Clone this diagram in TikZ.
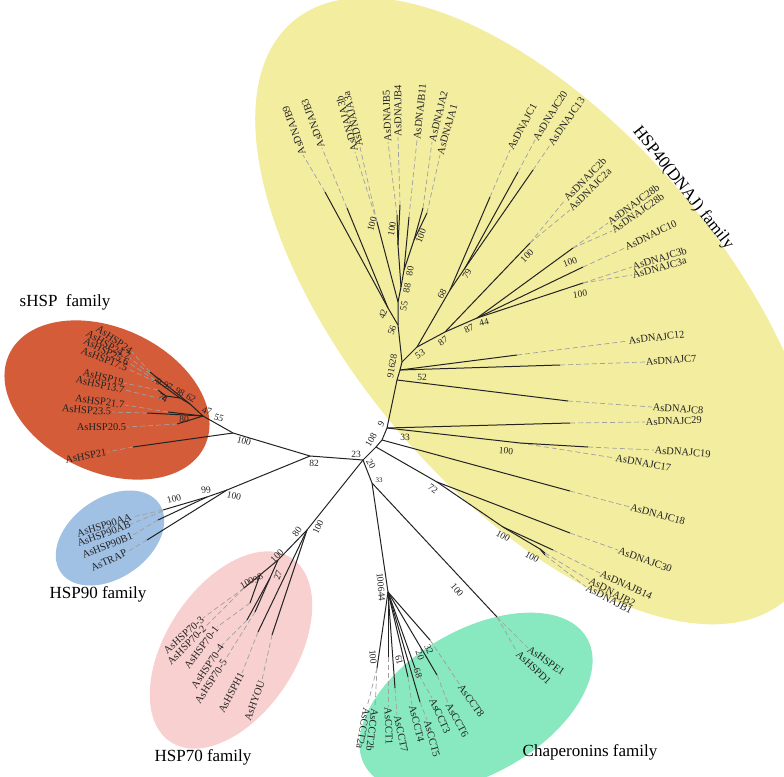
\documentclass[tikz,border=0pt]{standalone}
\usepackage{fontspec}
\setmainfont{Liberation Serif}
\definecolor{yel}{RGB}{243,237,160}
\definecolor{org}{RGB}{212,92,57}
\definecolor{blu}{RGB}{160,192,228}
\definecolor{pnk}{RGB}{249,208,208}
\definecolor{grn}{RGB}{136,232,192}
\definecolor{ink}{RGB}{35,35,35}
\definecolor{dsh}{RGB}{160,160,160}
\newcommand\lfR[5]{\coordinate (e#1) at (#2); \node[lf,anchor=west,rotate=#4] (l#1) at (#3) {#5}; \draw[dl] (e#1) -- (l#1.west);}
\newcommand\lfL[5]{\coordinate (e#1) at (#2); \node[lf,anchor=east,rotate=#4] (l#1) at (#3) {#5}; \draw[dl] (e#1) -- (l#1.east);}
\newcommand\bsl[4]{\node[bs,rotate=#3] (#1) at (#2) {#4};}
\begin{document}
\begin{tikzpicture}[x=1pt,y=-1pt,
  br/.style={draw=ink, line width=1pt},
  dl/.style={draw=dsh, line width=0.7pt, dash pattern=on 5pt off 3pt},
  lf/.style={font=\fontsize{10.5}{12}\selectfont, inner sep=0.6pt, text=ink},
  bs/.style={font=\fontsize{9.5}{11}\selectfont, inner sep=0pt, text=ink},
  fam/.style={font=\fontsize{17}{20}\selectfont, inner sep=0pt, text=black}]
\useasboundingbox (0,0) rectangle (784,776);
\clip (0,0) rectangle (784,776);
\fill[white] (0,0) rectangle (784,776);
% family backgrounds
\fill[yel, rotate around={-49.6:(539,311)}] (539,311) ellipse [x radius=380, y radius=185];
\fill[org, rotate around={-25:(107,400)}] (107,400) ellipse [x radius=108, y radius=72];
\fill[blu, rotate around={35:(110,538)}] (110,538) ellipse [x radius=60, y radius=40];
\fill[pnk, rotate around={56.7:(231,650)}] (231,650) ellipse [x radius=110, y radius=65];
\fill[grn, rotate around={30:(476,702)}] (476,702) ellipse [x radius=128, y radius=72];
% family titles
\node[fam, rotate=-51.6] (fHSP40) at (683,188) {HSP40(DNAJ) family};
\node[fam] (fsHSP) at (65,302) {sHSP\ \ family};
\node[fam] (fHSP90) at (98,594) {HSP90 family};
\node[fam] (fHSP70) at (203,757) {HSP70 family};
\node[fam] (fCha) at (590,752) {Chaperonins family};
% ---- leaves: HSP40 ----
\lfR{B9}{325,192}{303,155}{110}{AsDNAJB9}
\lfR{B3}{347,208}{322,148}{110}{AsDNAJB3}
\lfR{A3b}{377,222}{355,152}{106}{AsDNAJA3b}
\lfR{A3a}{377,222}{360,147}{104}{AsDNAJA3a}
\lfR{B5}{397,215}{388,142}{92}{AsDNAJB5}
\lfR{B4}{400,205}{398,137}{90}{AsDNAJB4}
\lfR{B11}{409,217}{417,140}{84}{AsDNAJB11}
\lfR{A2}{423,208}{432,142}{76}{AsDNAJA2}
\lfR{A1}{427,213}{440,155}{74}{AsDNAJA1}
\lfR{C1}{490,197}{510,150}{62}{AsDNAJC1}
\lfR{C20}{518,172}{535,140}{58}{AsDNAJC20}
\lfR{C13}{533,170}{550,145}{55}{AsDNAJC13}
\lfR{C2b}{530,243}{565,200}{46}{AsDNAJC2b}
\lfR{C2a}{530,243}{570,210}{45}{AsDNAJC2a}
\lfR{C28b}{573,248}{608,223}{36}{AsDNAJC28b}
\lfR{C28c}{573,248}{612,231}{35}{AsDNAJC28b}
\lfR{C10}{583,267}{625,248}{26}{AsDNAJC10}
\lfR{C3b}{583,283}{632,267}{17}{AsDNAJC3b}
\lfR{C3a}{583,283}{632,275}{15}{AsDNAJC3a}
\lfR{C12}{517,355}{628,341}{7}{AsDNAJC12}
\lfR{C7}{560,365}{645,362}{4}{AsDNAJC7}
\lfR{C8}{568,401}{652,407}{-4}{AsDNAJC8}
\lfR{C29}{570,423}{645,422}{2}{AsDNAJC29}
\lfR{C19}{588,447}{654,450}{-4}{AsDNAJC19}
\lfR{C17}{520,443}{615,458}{-10}{AsDNAJC17}
\lfR{C18}{570,491}{630,507}{-15}{AsDNAJC18}
\lfR{C30}{570,533}{618,550}{-20}{AsDNAJC30}
\lfR{B14}{553,550}{600,573}{-25}{AsDNAJB14}
\lfR{B2}{545,553}{589,580}{-28}{AsDNAJB2}
\lfR{B1}{545,555}{586,587}{-28}{AsDNAJB1}
% ---- leaves: chaperonins ----
\lfR{T2a}{377,668}{367,707}{-100}{AsCCT2a}
\lfR{T2b}{377,668}{375,708}{-97}{AsCCT2b}
\lfR{T1}{388,657}{388,707}{-88}{AsCCT1}
\lfR{T7}{395,688}{397,715}{-78}{AsCCT7}
\lfR{T4}{408,677}{412,705}{-76}{AsCCT4}
\lfR{T5}{420,702}{427,720}{-75}{AsCCT5}
\lfR{T3}{415,668}{432,698}{-66}{AsCCT3}
\lfR{T6}{437,675}{448,703}{-62}{AsCCT6}
\lfR{T8}{430,640}{460,685}{-55}{AsCCT8}
\lfR{PE}{497,617}{528,648}{-35}{AsHSPE1}
\lfR{PD}{497,617}{517,652}{-43}{AsHSPD1}
% ---- leaves: HSP70 ----
\lfL{H3}{244,588}{203,618}{42}{AsHSP70-3}
\lfL{H2}{244,588}{205,627}{45}{AsHSP70-2}
\lfL{H1}{250,603}{217,627}{53}{AsHSP70-1}
\lfL{H4}{247,620}{222,645}{56}{AsHSP70-4}
\lfL{H5}{255,612}{225,660}{57}{AsHSP70-5}
\lfL{HH}{258,632}{242,673}{62}{AsHSPH1}
\lfL{HY}{272,635}{262,680}{70}{AsHYOU}
% ---- leaves: HSP90 ----
\lfL{AA}{163,510}{132,517}{17}{AsHSP90AA}
\lfL{AB}{163,511}{131,524}{20}{AsHSP90AB}
\lfL{Bh}{158,520}{133,535}{22}{AsHSP90B1}
\lfL{TR}{147,540}{127,552}{25}{AsTRAP}
% ---- leaves: sHSP ----
\lfL{S1}{150,372}{132,352}{-35}{AsHSP24}
\lfL{S2}{150,374}{130,358}{-31}{AsHSP24.7}
\lfL{S3}{155,380}{129,363}{-27}{AsHSP25.6}
\lfL{S4}{156,382}{128,369}{-22}{AsHSP17.5}
\lfL{S5}{158,390}{124,383}{-15}{AsHSP19}
\lfL{S6}{162,399}{125,390}{-12}{AsHSP13.7}
\lfL{S7}{168,412}{125,405}{-8}{AsHSP21.7}
\lfL{S8}{147,413}{112,412}{-4}{AsHSP23.5}
\lfL{S9}{177,424}{127,427}{0}{AsHSP20.5}
\lfL{S10}{133,447}{107,452}{11}{AsHSP21}
% ---- internal nodes ----
\coordinate (R0) at (363,460);
\coordinate (P2) at (376,447);
\coordinate (P3) at (382,440);
\coordinate (P4) at (387,428);
\coordinate (N82) at (310,456);
\coordinate (N80) at (307,530);
\coordinate (N33) at (372,483);
\coordinate (Nc8) at (397,380);
\coordinate (N52) at (400,370);
\coordinate (N91) at (402,362);
\coordinate (N56) at (398,325);
\coordinate (N42) at (388,308);
\coordinate (N55) at (398,302);
\coordinate (N88) at (401,287);
\coordinate (Nb54) at (398,245);
\coordinate (N80h) at (404,270);
\coordinate (Na21) at (414,240);
\coordinate (N53) at (417,347);
\coordinate (N68) at (450,290);
\coordinate (N79) at (465,268);
\coordinate (N87) at (445,332);
\coordinate (N8744) at (477,318);
\coordinate (N72) at (437,482);
\coordinate (N100d) at (503,527);
\coordinate (N100f) at (540,549);
\coordinate (N100s) at (233,433);
\coordinate (N47) at (203,416);
\coordinate (N62) at (190,404);
\coordinate (N98) at (180,398);
\coordinate (N74) at (166,396);
\coordinate (N100h) at (227,490);
\coordinate (N99) at (207,497);
\coordinate (N100x) at (278,560);
\coordinate (N98h) at (260,575);
\coordinate (N27) at (270,578);
\coordinate (Ncct) at (388,592);
% ---- solid branches ----
\draw[br] (N82) -- (R0) -- (P2) -- (P3) -- (P4) -- (Nc8) -- (N52) -- (N91) -- (N56) -- (N55) -- (N88) -- (N80h);
\draw[br] (R0) -- (N80);
\draw[br] (R0) -- (N33);
\draw[br] (P2) -- (N72) -- (eC30);
\draw[br] (N72) -- (N100d) -- (eB14);
\draw[br] (N100d) -- (N100f) -- (eB2);
\draw[br] (N100f) -- (eB1);
\draw[br] (P3) -- (eC18);
\draw[br] (P4) -- (eC29);
\draw[br] (P4) -- (eC17) -- (eC19);
\draw[br] (Nc8) -- (eC8);
\draw[br] (N52) -- (eC12);
\draw[br] (N52) -- (eC7);
\draw[br] (N56) -- (N42) -- (eB9);
\draw[br] (N42) -- (eB3);
\draw[br] (N55) -- (eA3b);
\draw[br] (N88) -- (Nb54) -- (eB5);
\draw[br] (Nb54) -- (eB4);
\draw[br] (N80h) -- (eB11);
\draw[br] (N80h) -- (Na21) -- (eA2);
\draw[br] (Na21) -- (eA1);
\draw[br] (N91) -- (N53) -- (N68) -- (eC1);
\draw[br] (N68) -- (N79) -- (eC20);
\draw[br] (N79) -- (eC13);
\draw[br] (N53) -- (N87) -- (eC2b);
\draw[br] (N87) -- (N8744) -- (eC28b);
\draw[br] (N8744) -- (eC10);
\draw[br] (N8744) -- (eC3b);
% sHSP
\draw[br] (N82) -- (N100s) -- (eS10);
\draw[br] (N100s) -- (N47) -- (eS8);
\draw[br] (N47) -- (eS9);
\draw[br] (N47) -- (eS7);
\draw[br] (N47) -- (N62) -- (eS1);
\draw[br] (N62) -- (N98) -- (eS3);
\draw[br] (N98) -- (N74) -- (eS5);
\draw[br] (N74) -- (eS6);
% HSP90
\draw[br] (N82) -- (N100h) -- (N99) -- (eAA);
\draw[br] (N99) -- (eBh);
\draw[br] (N100h) -- (eTR);
% HSP70
\draw[br] (N80) -- (N100x) -- (N98h) -- (eH3);
\draw[br] (N98h) -- (eH1);
\draw[br] (N100x) -- (N27) -- (eH4);
\draw[br] (N27) -- (eH5);
\draw[br] (N80) -- (eHH);
\draw[br] (N80) -- (eHY);
% chaperonins
\draw[br] (N33) -- (Ncct) -- (eT2a);
\draw[br] (Ncct) -- (eT1);
\draw[br] (Ncct) -- (eT7);
\draw[br] (Ncct) -- (eT4);
\draw[br] (Ncct) -- (eT5);
\draw[br] (Ncct) -- (eT3);
\draw[br] (Ncct) -- (eT6);
\draw[br] (Ncct) -- (eT8);
\draw[br] (N33) -- (ePE);
% ---- bootstrap values ----
\bsl{b1}{392,366}{80}{91628}
\bsl{b2}{422,377}{0}{52}
\bsl{b3}{392,330}{70}{56}
\bsl{b4}{383,314}{70}{42}
\bsl{b5}{404,306}{80}{55}
\bsl{b6}{407,288}{80}{88}
\bsl{b7}{410,271}{80}{80}
\bsl{b8}{392,229}{80}{100}
\bsl{b9}{372,224}{75}{100}
\bsl{b10}{421,236}{70}{100}
\bsl{b11}{420,354}{30}{53}
\bsl{b12}{442,294}{60}{68}
\bsl{b13}{467,274}{60}{79}
\bsl{b14}{443,341}{35}{87}
\bsl{b15}{469,329}{25}{87}
\bsl{b16}{484,322}{15}{44}
\bsl{b17}{527,256}{45}{100}
\bsl{b18}{570,262}{20}{100}
\bsl{b19}{580,294}{8}{100}
\bsl{b20}{506,451}{-5}{100}
\bsl{b21}{405,437}{0}{33}
\bsl{b22}{433,489}{-35}{72}
\bsl{b23}{503,536}{-30}{100}
\bsl{b24}{532,557}{-30}{100}
\bsl{b25}{381,424}{60}{9}
\bsl{b26}{371,440}{60}{108}
\bsl{b27}{371,464}{-60}{20}
\bsl{b28}{356,454}{0}{23}
\bsl{b29}{314,463}{0}{82}
\node[bs, font=\fontsize{7}{8}\selectfont] (b30) at (379,480) {33};
\bsl{b31}{457,590}{-50}{100}
\bsl{b32}{297,532}{55}{80}
\bsl{b33}{318,527}{65}{100}
\bsl{b34}{234,496}{-12}{100}
\bsl{b35}{206,490}{10}{99}
\bsl{b36}{174,499}{15}{100}
\bsl{b37}{277,556}{45}{100}
\bsl{b38}{258,578}{30}{98}
\bsl{b39}{247,583}{30}{100}
\bsl{b40}{278,575}{70}{27}
\bsl{b41}{244,441}{-15}{100}
\bsl{b42}{207,411}{-20}{47}
\bsl{b43}{219,418}{-20}{55}
\bsl{b44}{184,419}{0}{80}
\bsl{b45}{157,381}{-30}{79}
\bsl{b46}{168,386}{-30}{97}
\bsl{b47}{180,392}{-30}{98}
\bsl{b48}{191,398}{-30}{62}
\bsl{b49}{163,398}{-30}{74}
\bsl{b50}{381,587}{-85}{100644}
\bsl{b51}{373,657}{-85}{100}
\bsl{b52}{399,660}{-75}{61}
\bsl{b53}{418,673}{-70}{68}
\bsl{b54}{420,655}{-70}{20}
\bsl{b55}{429,649}{-65}{32}
\end{tikzpicture}
\end{document}
